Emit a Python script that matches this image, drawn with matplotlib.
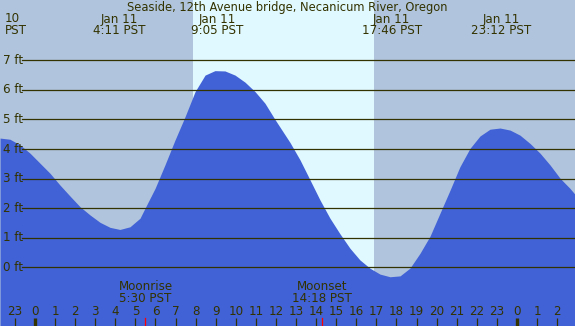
import matplotlib
matplotlib.use("Agg")
import matplotlib.pyplot as plt
import numpy as np

# ---------------- data ----------------
title = "Seaside, 12th Avenue bridge, Necanicum River, Oregon"
# tide curve readings (hour of Jan 11, feet)
curve_hours = [-1.74, -1.245, -0.747, -0.249, 0.249, 0.747, 1.245, 1.743, 2.24, 2.74, 3.24,
               3.74, 4.23, 4.73, 5.23, 5.48, 5.98, 6.47, 6.97, 7.47, 7.97, 8.47, 8.96,
               9.46, 9.96, 10.46, 10.96, 11.45, 11.95, 12.7, 13.2, 13.7, 14.19, 14.69,
               15.19, 15.69, 16.18, 16.68, 17.18, 17.68, 18.18, 18.67, 19.17, 19.67,
               20.17, 20.67, 21.16, 21.66, 22.16, 22.66, 23.16, 23.66, 24.15, 24.65,
               25.15, 25.65, 26.15, 26.64, 26.89]
curve_feet = [4.37, 4.33, 4.14, 3.86, 3.52, 3.18, 2.78, 2.41, 2.05, 1.77, 1.52,
              1.35, 1.28, 1.37, 1.66, 2.00, 2.67, 3.46, 4.30, 5.09, 5.94, 6.50, 6.65,
              6.64, 6.50, 6.26, 5.94, 5.55, 5.00, 4.22, 3.63, 2.95, 2.28, 1.66,
              1.13, 0.64, 0.25, -0.03, -0.23, -0.32, -0.29, -0.03, 0.47, 1.05,
              1.83, 2.61, 3.40, 4.02, 4.44, 4.67, 4.71, 4.64, 4.47, 4.19,
              3.86, 3.46, 3.01, 2.67, 2.47]
tide_labels = ["4:11", "9:05", "17:46", "23:12"]
moon_events = [("Moonrise", "5:30"), ("Moonset", "14:18")]
sunrise, sunset = "7:52", "16:53"
ft_levels = [0, 1, 2, 3, 4, 5, 6, 7]
hour_ticks = list(range(-1, 27))

def to_h(s):
    hh, mm = s.split(":")
    return int(hh) + int(mm) / 60.0

# ---------------- layout ----------------
W, H = 575, 326
x0_px, px_per_h = 35.0, 20.08
y0_px, px_per_ft = 267.3, 29.57
xmin = -x0_px / px_per_h
xmax = (W - x0_px) / px_per_h
ytop = y0_px / px_per_ft
ybot = (y0_px - H) / px_per_ft

def hx(px):
    return (px - x0_px) / px_per_h

def fy(py):
    return (y0_px - py) / px_per_ft

BG = "#b0c4de"
DAY = "#e0f8ff"
WATER = "#4161d6"
INK = "#333300"
FS = 8.6

fig = plt.figure(figsize=(W / 100, H / 100), dpi=100)
ax = fig.add_axes([0, 0, 1, 1])
ax.set_xlim(xmin, xmax)
ax.set_ylim(ybot, ytop)
ax.axis("off")
ax.add_patch(plt.Rectangle((xmin, ybot), xmax - xmin, ytop - ybot, color=BG, zorder=0))
ax.axvspan(to_h(sunrise), to_h(sunset), color=DAY, zorder=1, lw=0)

ax.fill_between(curve_hours, curve_feet, ybot, color=WATER, lw=0, zorder=2)

for lv in ft_levels:
    ax.plot([hx(22), xmax], [lv, lv], color=INK, lw=0.9, zorder=3)
    ax.text(hx(3), lv, f"{lv} ft", ha="left", va="center", fontsize=FS, color=INK, zorder=4)

ax.text(hx(287), fy(7), title, ha="center", va="center", fontsize=8.3, color=INK)
ax.text(hx(5), fy(19), "10", ha="left", va="center", fontsize=FS, color=INK)
ax.text(hx(5), fy(31), "PST", ha="left", va="center", fontsize=FS, color=INK)
for t in tide_labels:
    h = to_h(t)
    ax.text(h, fy(19), "Jan 11", ha="center", va="center", fontsize=FS, color=INK)
    ax.text(h, fy(31), f"{t} PST", ha="center", va="center", fontsize=FS, color=INK)

for name, t in moon_events:
    h = to_h(t)
    ax.text(h, fy(287), name, ha="center", va="center", fontsize=FS, color=INK)
    ax.text(h, fy(299), f"{t} PST", ha="center", va="center", fontsize=FS, color=INK)
    ax.plot([h, h], [fy(318), fy(326)], color="red", lw=0.9, zorder=5)

for hr in hour_ticks:
    lab = hr % 24
    ax.text(hr, fy(311.5), str(lab), ha="center", va="center", fontsize=FS, color=INK)
    if lab == 0:
        ax.plot([hr, hr], [fy(318), fy(326)], color=INK, lw=2.4, zorder=5, solid_capstyle="butt")
    else:
        ax.plot([hr, hr], [fy(318), fy(326)], color=INK, lw=0.9, zorder=5, solid_capstyle="butt")

fig.savefig("out.png", dpi=100)
